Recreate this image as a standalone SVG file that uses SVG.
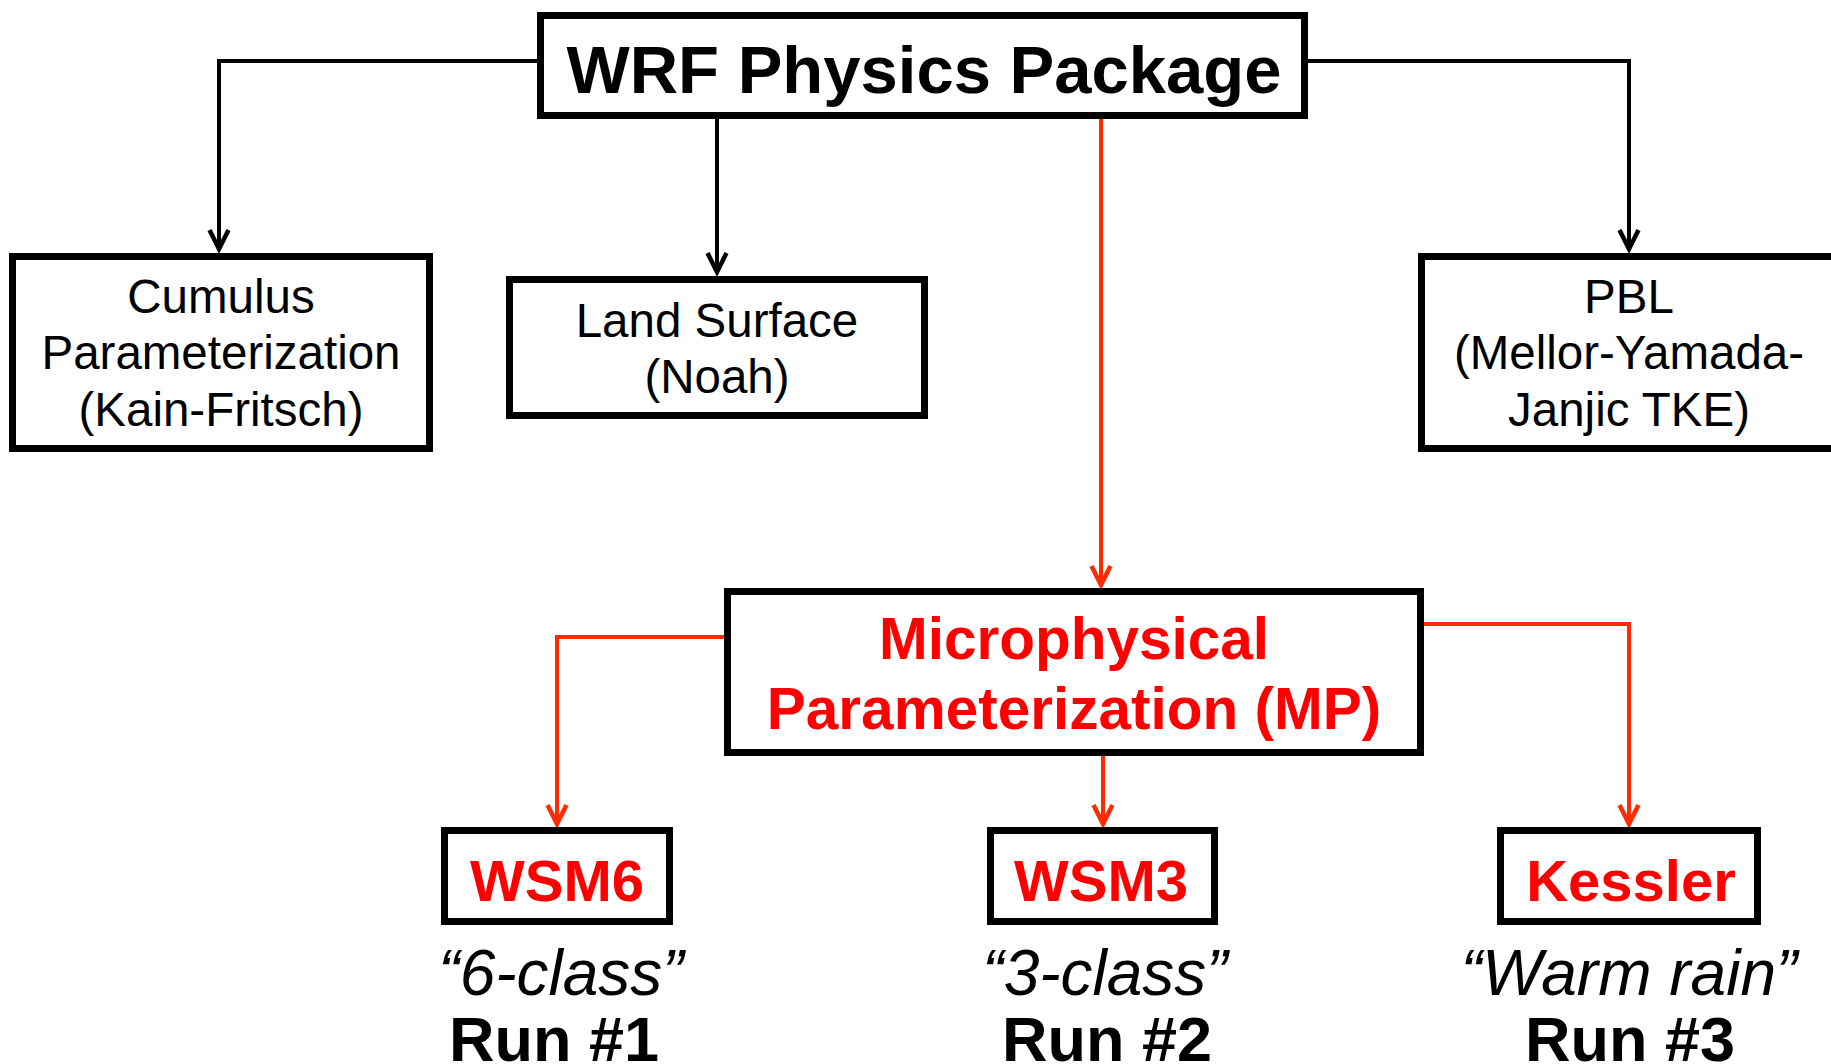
<svg xmlns="http://www.w3.org/2000/svg" width="1831" height="1064" viewBox="0 0 1831 1064">
  <style>
    .box { fill: #ffffff; stroke: #000000; stroke-width: 7; }
    .conn { fill: none; stroke-width: 4; stroke-linejoin: miter; }
    .blk { stroke: #000000; }
    .red { stroke: #FF2A00; }
    .reg { font-family: "Liberation Sans", Arial, sans-serif; font-size: 47.5px; fill: #000000; text-anchor: middle; }
    .title { font-family: "Liberation Sans", Arial, sans-serif; font-size: 67px; font-weight: bold; fill: #000000; text-anchor: middle; }
    .mp { font-family: "Liberation Sans", Arial, sans-serif; font-size: 58.5px; font-weight: bold; fill: #FF0000; text-anchor: middle; }
    .scheme { font-family: "Liberation Sans", Arial, sans-serif; font-size: 58px; font-weight: bold; fill: #FF0000; text-anchor: middle; }
    .quote { font-family: "Liberation Sans", Arial, sans-serif; font-size: 64px; font-style: italic; fill: #000000; text-anchor: middle; }
    .run { font-family: "Liberation Sans", Arial, sans-serif; font-size: 63px; font-weight: bold; fill: #000000; text-anchor: middle; }
  </style>
  <defs>
    <marker id="arrBlk" markerUnits="userSpaceOnUse" markerWidth="30" markerHeight="30" refX="0" refY="0" orient="auto" overflow="visible">
      <path d="M -19,-9.5 L 0,0 L -19,9.5" fill="none" stroke="#000000" stroke-width="4.5"/>
    </marker>
    <marker id="arrRed" markerUnits="userSpaceOnUse" markerWidth="30" markerHeight="30" refX="0" refY="0" orient="auto" overflow="visible">
      <path d="M -19,-9.5 L 0,0 L -19,9.5" fill="none" stroke="#FF2A00" stroke-width="4.5"/>
    </marker>
  </defs>
  <rect x="0" y="0" width="1831" height="1064" fill="#ffffff"/>

  <g id="connectors">
    <path class="conn blk" d="M 540,61 L 219,61 L 219,249" marker-end="url(#arrBlk)"/>
    <path class="conn blk" d="M 717,119 L 717,272" marker-end="url(#arrBlk)"/>
    <path class="conn blk" d="M 1306,61 L 1629,61 L 1629,249" marker-end="url(#arrBlk)"/>
    <path class="conn red" d="M 1101,119 L 1101,585" marker-end="url(#arrRed)"/>
    <path class="conn red" d="M 726,637 L 557,637 L 557,824" marker-end="url(#arrRed)"/>
    <path class="conn red" d="M 1103,756 L 1103,824" marker-end="url(#arrRed)"/>
    <path class="conn red" d="M 1422,624 L 1629,624 L 1629,824" marker-end="url(#arrRed)"/>
  </g>

  <g id="wrf">
    <rect class="box" x="540.5" y="15.5" width="764" height="100"/>
    <text class="title" x="924" y="93">WRF Physics Package</text>
  </g>
  <g id="cumulus">
    <rect class="box" x="12.5" y="256.5" width="417" height="192"/>
    <text class="reg" x="221" y="313">Cumulus</text>
    <text class="reg" x="221" y="369">Parameterization</text>
    <text class="reg" x="221" y="426">(Kain-Fritsch)</text>
  </g>
  <g id="land">
    <rect class="box" x="509.5" y="279.5" width="415" height="136"/>
    <text class="reg" x="717" y="337">Land Surface</text>
    <text class="reg" x="717" y="393">(Noah)</text>
  </g>
  <g id="pbl">
    <rect class="box" x="1421.5" y="256.5" width="430" height="192"/>
    <text class="reg" x="1629" y="313">PBL</text>
    <text class="reg" x="1629" y="369">(Mellor-Yamada-</text>
    <text class="reg" x="1629" y="426">Janjic TKE)</text>
  </g>
  <g id="mp">
    <rect class="box" x="727.5" y="591.5" width="693" height="161"/>
    <text class="mp" x="1074" y="659">Microphysical</text>
    <text class="mp" x="1074" y="729">Parameterization (MP)</text>
  </g>
  <g id="wsm6">
    <rect class="box" x="444.5" y="830.5" width="225" height="91"/>
    <text class="scheme" x="557" y="901">WSM6</text>
    <text class="quote" x="561" y="995">“6-class”</text>
    <text class="run" x="554" y="1061">Run #1</text>
  </g>
  <g id="wsm3">
    <rect class="box" x="990.5" y="830.5" width="224" height="91"/>
    <text class="scheme" x="1101" y="901">WSM3</text>
    <text class="quote" x="1105" y="995">“3-class”</text>
    <text class="run" x="1107" y="1061">Run #2</text>
  </g>
  <g id="kessler">
    <rect class="box" x="1500.5" y="830.5" width="257" height="91"/>
    <text class="scheme" x="1631" y="901">Kessler</text>
    <text class="quote" x="1629" y="995">“Warm rain”</text>
    <text class="run" x="1630" y="1061">Run #3</text>
  </g>
</svg>
